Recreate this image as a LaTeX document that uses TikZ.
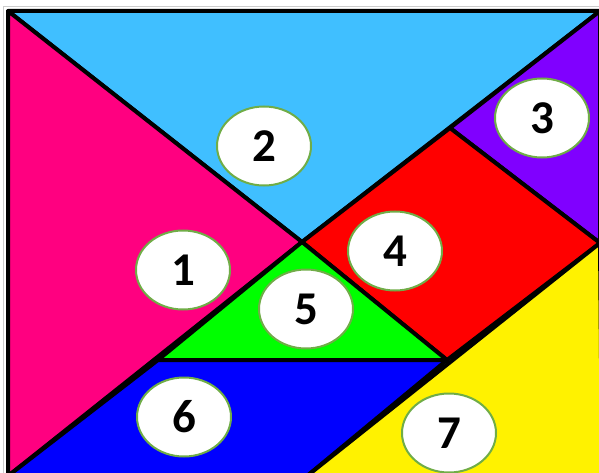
\documentclass[tikz,border=0pt]{standalone}
\usepackage{fontspec}
\setmainfont{Carlito}
\usetikzlibrary{shapes.geometric}
\definecolor{skyb}{HTML}{40BFFF}
\definecolor{rose}{HTML}{FF0080}
\definecolor{violet}{HTML}{8000FF}
\definecolor{tagrim}{HTML}{70AD47}

\begin{document}
\begin{tikzpicture}[x=1pt,y=-1pt,
    piece/.style={draw=black,line width=4pt,line join=round},
    tag/.style={ellipse,draw=tagrim,line width=2pt,fill=white,minimum width=94pt,minimum height=79pt,inner sep=0pt,font=\fontsize{47}{47}\selectfont\bfseries}]
    \useasboundingbox (0,0) rectangle (599,473);
    % corners of the tangram
    \coordinate (tl) at (8,11);
    \coordinate (tr) at (600,11);
    \coordinate (mid) at (302,242);
    \coordinate (sqtop) at (450,128);
    \coordinate (sqright) at (600,243);
    \coordinate (sqlow) at (447,360);
    \coordinate (trileft) at (158,360);
    \coordinate (bl) at (8,476);
    \coordinate (cut) at (307,476);
    \coordinate (br) at (602,476);
    \filldraw[piece,fill=skyb] (tl) -- (tr) -- (mid) -- cycle;
    \filldraw[piece,fill=rose] (tl) -- (mid) -- (bl) -- cycle;
    \filldraw[piece,fill=violet] (tr) -- (sqright) -- (sqtop) -- cycle;
    \filldraw[piece,fill=red] (mid) -- (sqtop) -- (sqright) -- (sqlow) -- cycle;
    \filldraw[piece,fill=green] (mid) -- (sqlow) -- (trileft) -- cycle;
    \filldraw[piece,fill=blue] (bl) -- (trileft) -- (sqlow) -- (cut) -- cycle;
    \filldraw[piece,fill=yellow] (cut) -- (sqright) -- (br) -- cycle;
    \draw[gray!40,line width=1pt] (3,473) -- (3,7) -- (599,7);
    % number tags
    \node[tag] (n1) at (183,270) {1};
    \node[tag] (n2) at (264,146) {2};
    \node[tag] (n3) at (542,118) {3};
    \node[tag] (n4) at (395,251) {4};
    \node[tag] (n5) at (306,309) {5};
    \node[tag] (n6) at (184,417) {6};
    \node[tag] (n7) at (449,433) {7};
\end{tikzpicture}
\end{document}
